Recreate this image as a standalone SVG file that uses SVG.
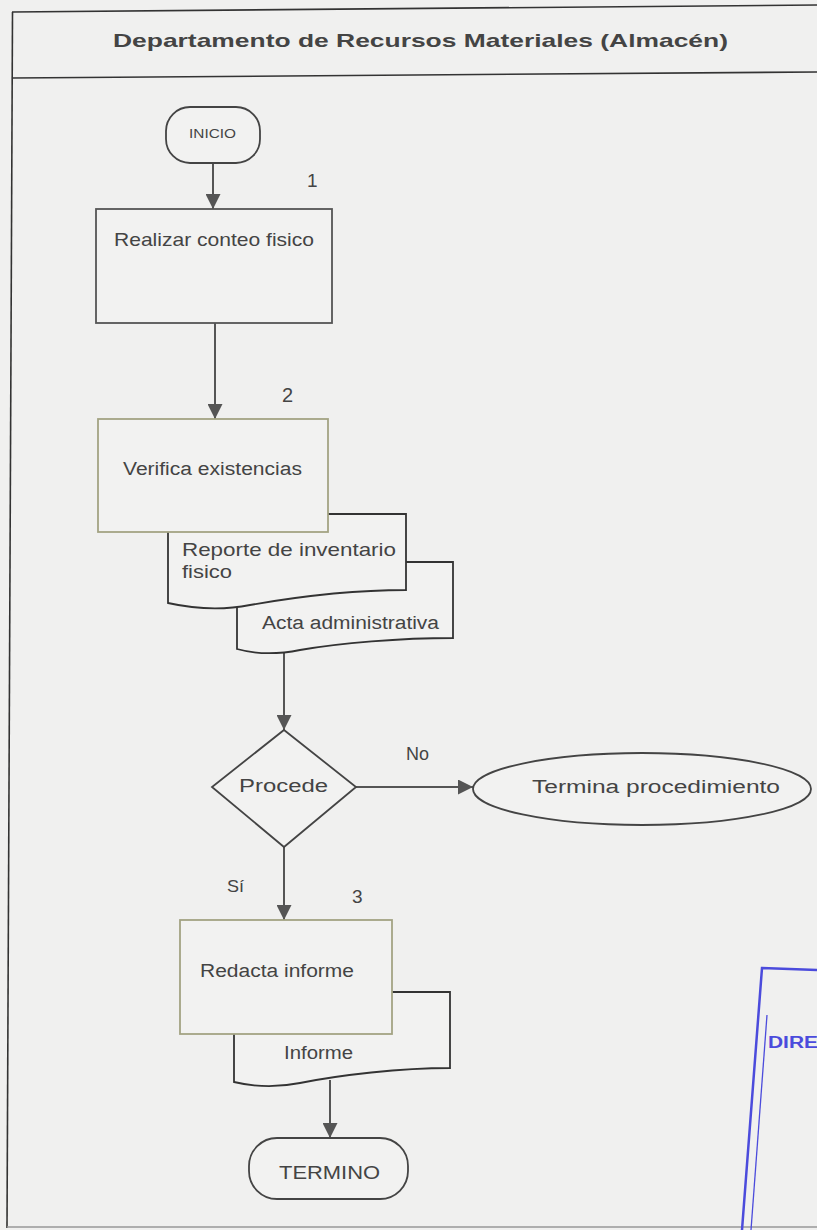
<svg xmlns="http://www.w3.org/2000/svg" width="817" height="1230" viewBox="0 0 817 1230">
<defs>
<style>
.t{font-family:"Liberation Sans",Arial,sans-serif;fill:#444;}
.frame{stroke:#333;stroke-width:1.6;fill:none;}
.conn{stroke:#555;stroke-width:2;fill:none;}
.box1{fill:#f2f2f1;stroke:#555;stroke-width:1.8;}
.box2{fill:#f2f2f1;stroke:#a3a383;stroke-width:1.8;}
.doc{fill:#f2f2f1;stroke:#333;stroke-width:1.8;}
.term{fill:#f2f2f1;stroke:#444;stroke-width:1.8;}
.blue{stroke:#4b4bdc;fill:none;}
</style>
<marker id="ah2" viewBox="0 0 10 10" refX="10" refY="5" markerWidth="15" markerHeight="15" markerUnits="userSpaceOnUse" orient="auto">
<path d="M0,0 L10,5 L0,10 Z" fill="#555"/>
</marker>
</defs>
<rect x="0" y="0" width="817" height="1230" fill="#f0f0ef"/>

<g id="frame">
<line class="frame" x1="12" y1="12" x2="817" y2="5"/>
<line class="frame" x1="12" y1="78" x2="817" y2="72"/>
<line class="frame" x1="12.5" y1="12" x2="7" y2="1228"/>
<line x1="7" y1="1227" x2="817" y2="1227" stroke="#999" stroke-width="1.5"/>
<text class="t" x="113" y="47" font-size="19" font-weight="bold" textLength="615" lengthAdjust="spacingAndGlyphs" fill="#3a3a3a">Departamento de Recursos Materiales (Almacén)</text>
</g>

<g id="connectors">
<line class="conn" x1="213" y1="163" x2="213" y2="209" marker-end="url(#ah2)"/>
<line class="conn" x1="215" y1="323" x2="215" y2="419" marker-end="url(#ah2)"/>
<line class="conn" x1="284" y1="651" x2="284" y2="730" marker-end="url(#ah2)"/>
<line class="conn" x1="356" y1="787" x2="473" y2="787" marker-end="url(#ah2)"/>
<line class="conn" x1="284" y1="847" x2="284" y2="920" marker-end="url(#ah2)"/>
<line class="conn" x1="330" y1="1080" x2="330" y2="1138" marker-end="url(#ah2)"/>
<text class="t" x="406" y="760" font-size="18" textLength="23" lengthAdjust="spacingAndGlyphs">No</text>
<text class="t" x="227" y="892" font-size="17" textLength="17" lengthAdjust="spacingAndGlyphs">Sí</text>
</g>

<g id="inicio">
<rect class="term" x="166" y="107" width="94" height="56" rx="24" ry="24"/>
<text class="t" x="189" y="138" font-size="12.5" textLength="47" lengthAdjust="spacingAndGlyphs">INICIO</text>
</g>

<g id="paso1">
<text class="t" x="307" y="187" font-size="19">1</text>
<rect class="box1" x="96" y="209" width="236" height="114"/>
<text class="t" x="114" y="246" font-size="18.5" textLength="200" lengthAdjust="spacingAndGlyphs">Realizar conteo fisico</text>
</g>

<g id="doc-acta">
<path class="doc" d="M237,562 L453,562 L453,638 C400,638 340,643 300,650 C275,655 255,654 237,649 Z"/>
<text class="t" x="262" y="629" font-size="18" textLength="177" lengthAdjust="spacingAndGlyphs">Acta administrativa</text>
</g>

<g id="doc-reporte">
<path class="doc" d="M168,514 L406,514 L406,590 C350,590 290,598 250,605 C220,611 195,609 168,603 Z"/>
<text class="t" x="182" y="556" font-size="18.5" textLength="214" lengthAdjust="spacingAndGlyphs">Reporte  de  inventario</text>
<text class="t" x="182" y="578" font-size="18.5" textLength="50" lengthAdjust="spacingAndGlyphs">fisico</text>
</g>

<g id="paso2">
<text class="t" x="282" y="402" font-size="20">2</text>
<rect class="box2" x="98" y="419" width="230" height="113"/>
<text class="t" x="123" y="475" font-size="18" textLength="179" lengthAdjust="spacingAndGlyphs">Verifica existencias</text>
</g>

<g id="decision">
<polygon class="term" points="284,730 356,787 284,847 212,787" stroke="#555"/>
<text class="t" x="239" y="792" font-size="18" textLength="89" lengthAdjust="spacingAndGlyphs">Procede</text>
</g>

<g id="termina">
<ellipse class="term" cx="642" cy="789" rx="169" ry="36"/>
<text class="t" x="532" y="793" font-size="18" textLength="248" lengthAdjust="spacingAndGlyphs">Termina procedimiento</text>
</g>

<g id="doc-informe">
<path class="doc" d="M234,992 L450,992 L450,1068 C400,1068 340,1075 300,1083 C275,1088 255,1087 234,1082 Z"/>
<text class="t" x="284" y="1059" font-size="18" textLength="69" lengthAdjust="spacingAndGlyphs">Informe</text>
</g>

<g id="paso3">
<text class="t" x="352" y="903" font-size="19">3</text>
<rect class="box2" x="180" y="920" width="212" height="114"/>
<text class="t" x="200" y="977" font-size="18" textLength="154" lengthAdjust="spacingAndGlyphs">Redacta informe</text>
</g>

<g id="termino">
<rect class="term" x="249" y="1138" width="159" height="61" rx="28" ry="28"/>
<text class="t" x="279" y="1179" font-size="19" textLength="101" lengthAdjust="spacingAndGlyphs">TERMINO</text>
</g>

<g id="sello">
<path class="blue" stroke-width="2.5" d="M817,970 L762,968 L742,1230"/>
<line class="blue" stroke-width="1.3" x1="767" y1="1015" x2="751" y2="1230"/>
<text x="768" y="1048" font-family="'Liberation Sans',Arial,sans-serif" font-weight="bold" font-size="16" fill="#4b4bdc" textLength="50" lengthAdjust="spacingAndGlyphs">DIRE</text>
</g>
</svg>
